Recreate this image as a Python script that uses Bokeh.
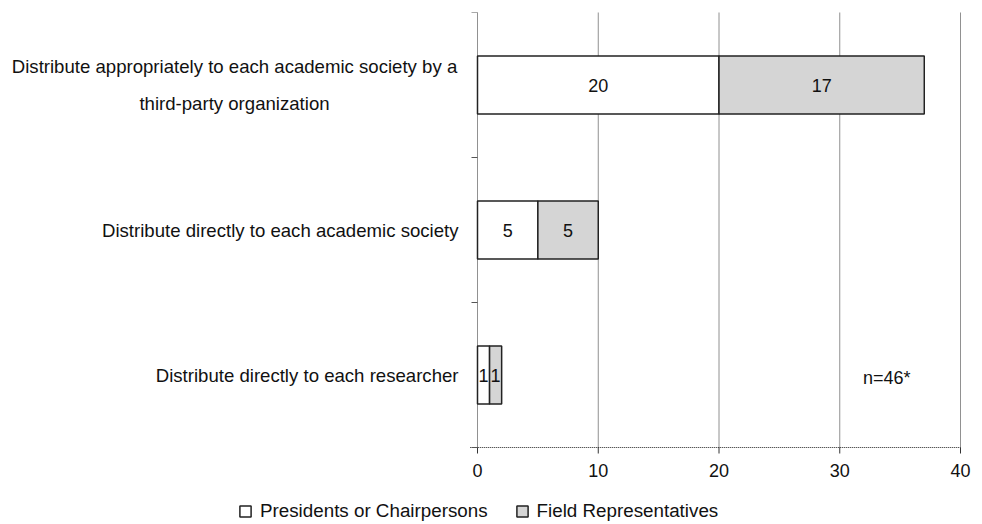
from bokeh.plotting import figure
from bokeh.models import Range1d, ColumnDataSource, Label, Legend, LegendItem
from bokeh.core.properties import value
from bokeh.embed import file_html
from bokeh.resources import INLINE

categories = ["Distribute appropriately to each academic society by a\nthird-party organization",
              "Distribute directly to each academic society",
              "Distribute directly to each researcher"]
presidents = [20, 5, 1]
field_reps = [17, 5, 1]
series_names = ["Presidents or Chairpersons", "Field Representatives"]
x_ticks = [0, 10, 20, 30, 40]
n_note = "n=46*"

FONT_NAME = "Liberation Sans"
FONT = value(FONT_NAME)
TXT = "#111111"
ncat = len(categories)
ypos = [ncat - 1 - i for i in range(ncat)]
bounds = [i - 0.5 for i in range(ncat + 1)]

# layout in page pixels: the frame covers the whole figure; the plot area proper
# (value 0..40, categories) is mapped into it through the ranges
W, H = 980, 522
frame_left, frame_top = 2, 12
zero_px, max_px, axis_px = 477, 960, 447
x_max = 40
ppx = (max_px - zero_px) / x_max                 # px per value unit
x_min = -(zero_px - frame_left) / ppx
ppy = (axis_px - frame_top) / ncat               # px per category band
y_top = ncat - 0.5
y_axis = -0.5
y_min = y_axis - (H - axis_px) / ppy

p = figure(width=W, height=H, output_backend="svg", toolbar_location=None,
           x_range=Range1d(x_min, W / ppx + x_min - frame_left / ppx),
           y_range=Range1d(y_min, y_top),
           min_border_left=frame_left, min_border_right=0,
           min_border_top=frame_top, min_border_bottom=0)
p.outline_line_color = None
p.xaxis.visible = False
p.yaxis.visible = False
p.grid.grid_line_color = None

# vertical grid lines (incl. the category axis line at 0)
p.segment(x0=x_ticks, x1=x_ticks, y0=[y_axis] * len(x_ticks), y1=[y_top] * len(x_ticks),
          line_color="#222222", line_dash="1 1", line_width=1)
# value axis line and ticks
p.segment(x0=[-0.6], x1=[x_max], y0=[y_axis], y1=[y_axis],
          line_color="#222222", line_dash="1 1", line_width=1)
p.segment(x0=x_ticks, x1=x_ticks, y0=[y_axis] * len(x_ticks),
          y1=[y_axis - 6 / ppy] * len(x_ticks), line_color="#333333", line_width=1)
p.text(x=x_ticks, y=[y_axis - 23 / ppy] * len(x_ticks), text=[str(t) for t in x_ticks],
       text_align="center", text_baseline="middle", text_font=FONT,
       text_font_size="18px", text_color=TXT)
# small tick marks on the category axis
p.segment(x0=[-6 / ppx] * len(bounds), x1=[0] * len(bounds), y0=bounds, y1=bounds,
          line_color="#555555", line_width=1)

src = ColumnDataSource(dict(
    y=ypos,
    p=presidents,
    p_mid=[v / 2 for v in presidents],
    f_left=presidents,
    f_right=[a + b for a, b in zip(presidents, field_reps)],
    f_mid=[a + b / 2 for a, b in zip(presidents, field_reps)],
    p_txt=[str(v) for v in presidents],
    f_txt=[str(v) for v in field_reps],
))

r1 = p.hbar(y="y", left=0, right="p", height=0.4, source=src,
            fill_color="white", line_color="#222222", line_width=1.5)
r2 = p.hbar(y="y", left="f_left", right="f_right", height=0.4, source=src,
            fill_color="#d5d5d5", line_color="#222222", line_width=1.5)

p.text(x="p_mid", y="y", text="p_txt", source=src, text_align="center",
       text_baseline="middle", text_font=FONT, text_font_size="18px", text_color=TXT)
p.text(x="f_mid", y="y", text="f_txt", source=src, text_align="center",
       text_baseline="middle", text_font=FONT, text_font_size="18px", text_color=TXT)

# category labels
multi = [(c, y) for c, y in zip(categories, ypos) if "\n" in c]
single = [(c, y) for c, y in zip(categories, ypos) if "\n" not in c]
if multi:
    p.text(x=[-243 / ppx] * len(multi), y=[m[1] for m in multi], text=[m[0] for m in multi],
           text_align="center", text_baseline="middle",
           text_font=FONT, text_font_size="18.6px", text_line_height=1.73, text_color=TXT)
p.text(x=[-19 / ppx] * len(single), y=[s[1] for s in single], text=[s[0] for s in single],
       text_align="right", text_baseline="middle",
       text_font=FONT, text_font_size="18.6px", text_color=TXT)

p.add_layout(Label(x=33.9, y=ypos[-1] - 3 / ppy, text=n_note, text_align="center",
                   text_baseline="middle", text_font=FONT_NAME, text_font_size="18px",
                   text_color=TXT))

legend = Legend(items=[LegendItem(label=series_names[0], renderers=[r1]),
                       LegendItem(label=series_names[1], renderers=[r2])],
                orientation="horizontal", location=(236, 0),
                border_line_color=None, background_fill_alpha=0,
                label_text_font=FONT_NAME, label_text_font_size="18.8px",
                label_text_color=TXT, glyph_width=14, glyph_height=14,
                spacing=27, label_standoff=8, padding=0, margin=0,
                label_height=14)
p.add_layout(legend, "center")

open("out.html", "w").write(file_html(p, INLINE))
